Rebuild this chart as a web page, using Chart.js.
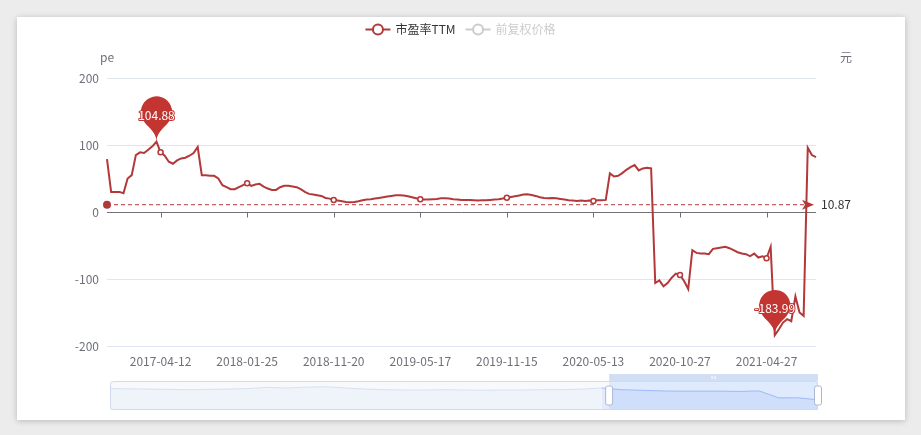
<!DOCTYPE html>
<html>
<head>
<meta charset="utf-8">
<script src="https://cdn.jsdelivr.net/npm/chart.js@4.4.1/dist/chart.umd.min.js"></script>
<style>
html,body{margin:0;padding:0;background:#ececec;}
#wrap{position:relative;width:921px;height:435px;overflow:hidden;background:#ececec;}
#card{position:absolute;left:17px;top:17px;width:888px;height:403px;background:#fff;box-shadow:0 1px 6px rgba(0,0,0,0.22);}
#main{position:absolute;left:0;top:0;}
#zoom{position:absolute;left:105px;top:370px;}
</style>
</head>
<body>
<div id="wrap">
  <div id="card"></div>
  <canvas id="main" width="921" height="435"></canvas>
  <canvas id="zoom" width="720" height="45"></canvas>
</div>
<script>
// ---------------- data ----------------
const legendNames = ['市盈率TTM', '前复权价格'];
const axisNames = ['pe', '元'];
const tickLabels = ['2017-04-12', '2018-01-25', '2018-11-20', '2019-05-17', '2019-11-15', '2020-05-13', '2020-10-27', '2021-04-27'];
const tickIndices = [13, 34, 55, 76, 97, 118, 139, 160];
const yTickValues = [-200, -100, 0, 100, 200];
const peAverage = 10.87;
const peValues = [
  79, 30, 30, 30, 28, 50, 55, 85, 89, 88,
  93, 98, 104.88, 89, 84, 75, 72, 77, 80, 81,
  84, 88, 97, 55, 55, 54, 54, 50, 40, 37,
  34, 34, 37, 40, 43, 39, 41, 42, 38, 35,
  33, 33, 37, 39, 39, 38, 37, 34, 30, 27,
  26, 25, 24, 21, 20, 18, 17, 16, 15, 14.5,
  15, 16, 17.5, 18.5, 19, 20, 21, 22, 23, 24,
  25, 25, 24.5, 23.5, 22, 20.5, 19, 18.5, 18.5, 19,
  19.5, 20.5, 20.5, 20, 19, 18.5, 18, 18, 18, 17.5,
  17, 17.5, 17.5, 18, 18.5, 19, 20, 21.4, 22.5, 23.5,
  24.5, 26, 26.4, 25.5, 24, 22, 21, 20.5, 21, 20.5,
  19.5, 18.5, 17.5, 17, 16.5, 17, 16.5, 17, 16.4, 17.5,
  17.5, 18, 57.7, 53, 54, 58, 63, 67, 70, 62,
  65, 66, 65, -106, -102, -111, -106, -98, -92, -94,
  -103, -115, -57, -61, -62, -62, -63, -55, -54, -53,
  -52, -54, -57, -60, -62, -63, -66, -62, -68, -66,
  -69, -52, -183.99, -175, -165, -160, -163, -126, -150, -155,
  96, 85, 82
];
// shadow curve shown inside the dataZoom slider (relative level)
const priceShadow = [
  74, 73, 72, 71, 70, 71, 72, 74, 78, 76,
  79, 80, 76, 72, 70, 69, 69, 70, 69, 68,
  69, 69, 70, 70, 72, 76, 70, 68, 66, 65,
  65, 65, 64, 66, 42, 42, 35
];
const zoomWindow = [0.705, 1.0];

// ---------------- style ----------------
const FONT = "'Noto Sans CJK SC','Noto Sans',sans-serif";
const LINE_COLOR = '#b3383a';
const PIN_COLOR = '#c23531';
const AXIS_TEXT = '#6E7079';

const categories = peValues.map((_, i) => {
  const k = tickIndices.indexOf(i);
  return k >= 0 ? tickLabels[k] : '';
});
const tickSet = new Set(tickIndices);

function pinPath(ctx, x, y, size) {
  const w = size / 5 * 3, h = Math.max(w, size), r = w / 2;
  const dy = r * r / (h - r), cy = y - h + r + dy;
  const angle = Math.asin(dy / r), dx = Math.cos(angle) * r;
  const tanX = Math.sin(angle), tanY = Math.cos(angle);
  const cpLen = r * 0.6, cpLen2 = r * 0.7;
  ctx.beginPath();
  ctx.moveTo(x - dx, cy + dy);
  ctx.arc(x, cy, r, Math.PI - angle, Math.PI * 2 + angle);
  ctx.bezierCurveTo(x + dx - tanX * cpLen, cy + dy + tanY * cpLen, x, y - cpLen2, x, y);
  ctx.bezierCurveTo(x, y - cpLen2, x - dx + tanX * cpLen, cy + dy + tanY * cpLen, x - dx, cy + dy);
  ctx.closePath();
  return cy;
}

const decor = {
  id: 'decor',
  afterDatasetsDraw(chart) {
    const {ctx, chartArea: a, scales: {x, y}} = chart;
    ctx.save();
    // tick marks on the zero line
    const y0 = Math.round(y.getPixelForValue(0)) + 0.5;
    ctx.strokeStyle = AXIS_TEXT; ctx.lineWidth = 1;
    x.ticks.forEach(t => {
      const px = Math.round(x.getPixelForValue(t.value)) + 0.5;
      ctx.beginPath(); ctx.moveTo(px, y0); ctx.lineTo(px, y0 + 5); ctx.stroke();
    });
    // average mark line
    const ya = y.getPixelForValue(peAverage);
    const xEnd = a.right - 2;
    ctx.strokeStyle = LINE_COLOR; ctx.lineWidth = 1; ctx.setLineDash([4, 3]);
    ctx.beginPath(); ctx.moveTo(a.left, ya); ctx.lineTo(xEnd - 8, ya); ctx.stroke();
    ctx.setLineDash([]);
    ctx.fillStyle = LINE_COLOR;
    ctx.beginPath(); ctx.arc(a.left, ya, 4, 0, Math.PI * 2); ctx.fill();
    ctx.beginPath(); ctx.moveTo(xEnd, ya); ctx.lineTo(xEnd - 12, ya - 5); ctx.lineTo(xEnd - 9, ya); ctx.lineTo(xEnd - 12, ya + 5); ctx.closePath(); ctx.fill();
    ctx.fillStyle = '#333'; ctx.font = `12px ${FONT}`; ctx.textAlign = 'left'; ctx.textBaseline = 'middle';
    ctx.fillText(peAverage.toFixed(2), a.right + 5, ya);
    // max / min pins
    let iMax = 0, iMin = 0;
    peValues.forEach((v, i) => { if (v > peValues[iMax]) iMax = i; if (v < peValues[iMin]) iMin = i; });
    [iMax, iMin].forEach(i => {
      const px = x.getPixelForValue(i), py = y.getPixelForValue(peValues[i]);
      const cy = pinPath(ctx, px, py, 52);
      ctx.fillStyle = PIN_COLOR; ctx.fill();
      ctx.textAlign = 'center'; ctx.textBaseline = 'middle';
      ctx.font = `12px ${FONT}`;
      ctx.lineJoin = 'round';
      ctx.strokeStyle = PIN_COLOR; ctx.lineWidth = 2;
      ctx.strokeText(String(peValues[i]), px, cy + 3);
      ctx.fillStyle = '#fff';
      ctx.fillText(String(peValues[i]), px, cy + 3);
    });
    ctx.restore();
  },
  afterDraw(chart) {
    const {ctx, chartArea: a} = chart;
    ctx.save();
    ctx.font = `12px ${FONT}`;
    // axis names
    ctx.fillStyle = AXIS_TEXT; ctx.textAlign = 'center'; ctx.textBaseline = 'middle';
    ctx.fillText(axisNames[0], a.left, a.top - 21);
    ctx.fillText(axisNames[1], a.right + 30, a.top - 21);
    // legend
    const iconW = 25, gap = 5, itemGap = 10;
    const widths = legendNames.map(n => iconW + gap + ctx.measureText(n).width);
    const total = widths.reduce((s, w) => s + w, 0) + itemGap * (widths.length - 1);
    let lx = chart.width / 2 - total / 2;
    const ly = 29.5;
    legendNames.forEach((name, k) => {
      const col = k === 0 ? LINE_COLOR : '#ccc';
      ctx.strokeStyle = col; ctx.lineWidth = 2;
      ctx.beginPath(); ctx.moveTo(lx, ly); ctx.lineTo(lx + iconW, ly); ctx.stroke();
      ctx.beginPath(); ctx.arc(lx + iconW / 2, ly, 5, 0, Math.PI * 2);
      ctx.fillStyle = '#fff'; ctx.fill(); ctx.stroke();
      ctx.fillStyle = k === 0 ? '#333' : '#ccc';
      ctx.textAlign = 'left'; ctx.textBaseline = 'middle';
      ctx.fillText(name, lx + iconW + gap, ly);
      lx += widths[k] + itemGap;
    });
    ctx.restore();
  }
};

new Chart(document.getElementById('main'), {
  type: 'line',
  data: {
    labels: categories,
    datasets: [{
      label: legendNames[0],
      data: peValues,
      borderColor: LINE_COLOR,
      borderWidth: 2,
      tension: 0,
      fill: false,
      pointRadius: c => tickSet.has(c.dataIndex) ? 2.5 : 0,
      pointHoverRadius: 0,
      pointBackgroundColor: '#fff',
      pointBorderColor: LINE_COLOR,
      pointBorderWidth: 1.5
    }]
  },
  options: {
    responsive: false,
    animation: false,
    events: [],
    layout: {padding: {left: 0, top: 78, right: 105, bottom: 59}},
    scales: {
      x: {
        type: 'category',
        offset: false,
        grid: {display: false, drawTicks: false},
        border: {display: false},
        afterBuildTicks: s => { s.ticks = s.ticks.filter(t => tickSet.has(t.value)); },
        afterFit: s => { s.height = 30; },
        ticks: {
          autoSkip: false, maxRotation: 0, padding: 8, color: AXIS_TEXT,
          font: {family: FONT, size: 12},
          callback: v => categories[v]
        }
      },
      y: {
        min: yTickValues[0], max: yTickValues[yTickValues.length - 1],
        afterBuildTicks: s => { s.ticks = yTickValues.map(v => ({value: v})); },
        afterFit: s => { s.width = 107; },
        grid: {color: c => (c.tick && c.tick.value === 0) ? AXIS_TEXT : '#E0E6F1', drawTicks: false, lineWidth: 1},
        border: {display: false},
        ticks: {padding: 8, color: AXIS_TEXT, font: {family: FONT, size: 12}}
      }
    },
    plugins: {legend: {display: false}, tooltip: {enabled: false}}
  },
  plugins: [decor]
});

// ---------------- dataZoom slider ----------------
const startIdx = Math.floor(zoomWindow[0] * (priceShadow.length - 1));
const sliderDecor = {
  id: 'sliderDecor',
  beforeDatasetsDraw(chart) {
    const {ctx, chartArea: a} = chart;
    ctx.save();
    ctx.fillStyle = 'rgba(247,249,253,1)';
    ctx.fillRect(a.left, a.top, a.right - a.left, a.bottom - a.top);
    ctx.restore();
  },
  afterDatasetsDraw(chart) {
    const {ctx, chartArea: a} = chart;
    const w = a.right - a.left;
    const sx = a.left + zoomWindow[0] * w, ex = a.left + zoomWindow[1] * w;
    ctx.save();
    ctx.fillStyle = 'rgba(135,175,255,0.2)';
    ctx.fillRect(sx, a.top, ex - sx, a.bottom - a.top);
    ctx.fillStyle = 'rgba(190,208,240,0.7)';
    ctx.fillRect(sx, a.top - 7, ex - sx, 7);
    ctx.strokeStyle = '#fff'; ctx.lineWidth = 1;
    ctx.beginPath(); ctx.moveTo((sx + ex) / 2 - 1.5, a.top - 5); ctx.lineTo((sx + ex) / 2 - 1.5, a.top - 2);
    ctx.moveTo((sx + ex) / 2 + 1.5, a.top - 5); ctx.lineTo((sx + ex) / 2 + 1.5, a.top - 2); ctx.stroke();
    ctx.strokeStyle = '#d2dbee';
    ctx.beginPath(); ctx.roundRect(a.left + 0.5, a.top + 0.5, w - 1, a.bottom - a.top - 1, 3); ctx.stroke();
    [sx, ex].forEach(hx => {
      ctx.fillStyle = '#fff'; ctx.strokeStyle = '#ACB8D1';
      ctx.beginPath(); ctx.roundRect(hx - 3.5, a.top + 5, 7, a.bottom - a.top - 10, 2); ctx.fill(); ctx.stroke();
    });
    ctx.restore();
  }
};
new Chart(document.getElementById('zoom'), {
  type: 'line',
  data: {
    labels: priceShadow.map((_, i) => i),
    datasets: [{
      data: priceShadow,
      borderWidth: 0.8,
      borderColor: '#d2dbee',
      backgroundColor: 'rgba(210,219,238,0.2)',
      fill: 'start',
      pointRadius: 0,
      tension: 0,
      segment: {
        borderColor: c => c.p0DataIndex >= startIdx ? '#8fb0f7' : '#d2dbee',
        backgroundColor: c => c.p0DataIndex >= startIdx ? 'rgba(143,176,247,0.2)' : 'rgba(210,219,238,0.2)'
      }
    }]
  },
  options: {
    responsive: false, animation: false, events: [],
    layout: {padding: {left: 5, right: 7, top: 11, bottom: 5}},
    scales: {x: {display: false, offset: false}, y: {display: false, min: 0, max: 100}},
    plugins: {legend: {display: false}, tooltip: {enabled: false}}
  },
  plugins: [sliderDecor]
});
</script>
</body>
</html>
